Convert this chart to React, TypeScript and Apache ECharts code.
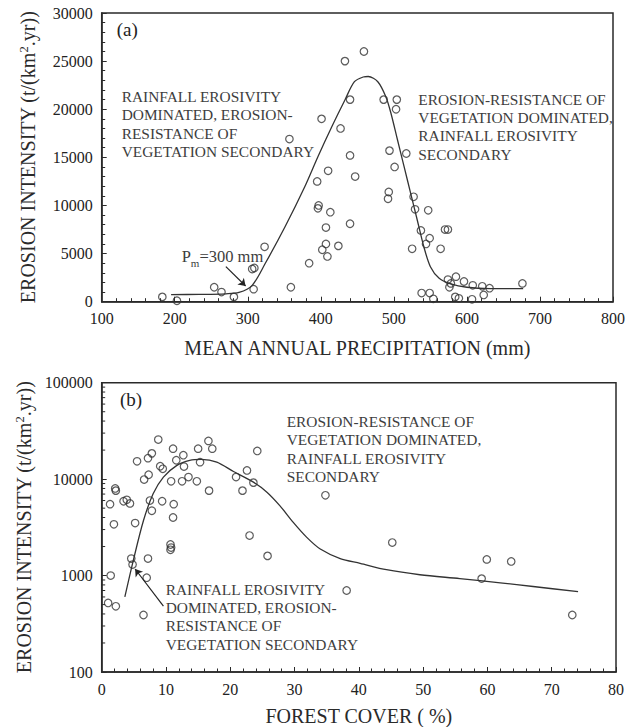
import React, { useEffect, useRef } from "react";
import * as echarts from "echarts";

// ---- Panel (a) data ----
const precipA = [183, 203, 254, 264, 281, 308, 306, 309, 323, 359, 357, 384, 395, 401, 397, 396, 410, 413, 407, 407, 402, 409, 424, 440, 427, 440, 433, 440, 447, 459, 486, 504, 503, 494, 517, 501, 493, 492, 527, 529, 547, 537, 549, 544, 525, 564, 570, 574, 574, 576, 578, 585, 596, 608, 621, 631, 676, 538, 549, 554, 584, 589, 607, 623];
const erosionA = [500, 100, 1500, 1000, 500, 1300, 3400, 3500, 5700, 1500, 16900, 4000, 12500, 19000, 10000, 9700, 13600, 9300, 7700, 6000, 5400, 4700, 5800, 8100, 18000, 21000, 25000, 15200, 13000, 26000, 21000, 21000, 20000, 15700, 15400, 14000, 11400, 10700, 10900, 9600, 9500, 7400, 6600, 6000, 5500, 5500, 7500, 7500, 2300, 1500, 1900, 2600, 2100, 1700, 1600, 1400, 1900, 900, 900, 300, 500, 350, 250, 700];
const curveAX = [195, 233, 270, 288, 306, 324, 351, 378, 396, 415, 433, 446, 458, 465, 478, 489, 496, 505, 514, 523, 532, 541, 550, 562, 578, 600, 632, 677];
const curveAY = [740, 760, 820, 960, 1700, 3990, 7790, 11950, 15070, 18180, 20960, 22860, 23350, 23400, 22860, 21300, 19580, 16800, 14030, 11260, 8490, 5715, 3640, 2430, 1840, 1500, 1360, 1350];
const arrowA = [[270, 3640], [297, 1630]];

// ---- Panel (b) data ----
const coverB = [1.3, 1.9, 1.4, 1.0, 2.2, 2.1, 2.2, 3.4, 3.9, 4.4, 5.2, 5.5, 4.6, 4.8, 7.2, 7.0, 6.5, 6.6, 7.2, 7.8, 7.3, 7.5, 7.8, 8.8, 9.1, 9.5, 9.4, 10.8, 11.1, 11.2, 11.1, 10.7, 10.8, 10.7, 11.6, 12.7, 12.8, 12.5, 13.5, 14.8, 15.0, 15.3, 16.6, 17.2, 16.7, 20.9, 21.9, 22.6, 23.6, 23.0, 24.2, 25.8, 34.8, 45.2, 38.1, 59.9, 63.7, 59.1, 73.2];
const erosionB = [5500, 3400, 1000, 520, 480, 8000, 7600, 5900, 6100, 5600, 3500, 15300, 1500, 1300, 1500, 950, 390, 9900, 16500, 18500, 11100, 6000, 4700, 25700, 13600, 12800, 5900, 9500, 20700, 5500, 4000, 2100, 1950, 1850, 15700, 17700, 13500, 9500, 10500, 9500, 20700, 15000, 24900, 20700, 7600, 10500, 7600, 12300, 9200, 2600, 19600, 1600, 6800, 2200, 700, 1470, 1400, 930, 390];
const curveBX = [3.6, 4.9, 6.5, 8.0, 9.6, 11.7, 13.7, 15.5, 17.9, 20.5, 23.6, 25.7, 27.7, 29.8, 31.9, 34.0, 37.1, 40.2, 44.3, 49.5, 55.7, 62.0, 67.1, 74.1];
const curveBY = [600, 1420, 3720, 7050, 10500, 13900, 15660, 16000, 15030, 12000, 9300, 7330, 5320, 3560, 2490, 1885, 1500, 1340, 1150, 1020, 930, 840, 770, 680];
const arrowB = [[9.6, 483], [5.2, 1170]];
const minorTicksB = [200, 300, 400, 500, 600, 700, 800, 900, 2000, 3000, 4000, 5000, 6000, 7000, 8000, 9000, 20000, 30000, 40000, 50000, 60000, 70000, 80000, 90000];

const FONT = "Liberation Serif";
const AXIS_COLOR = "#2a2a2a";
const TEXT_GRAY = "#3d3d3d";

const zip = (xs: number[], ys: number[]) => xs.map((x, i) => [x, ys[i]]);

export default function App() {
  const ref = useRef<HTMLDivElement>(null);
  useEffect(() => {
    if (!ref.current) return;
    const chart = echarts.init(ref.current, null, { renderer: "svg" });

    const yName = "EROSION INTENSITY (t/(km{sup|2}.yr))";
    const nameStyle = {
      fontFamily: FONT,
      fontSize: 20,
      color: "#2a2a2a",
      rich: {
        sup: { fontFamily: FONT, fontSize: 12.5, verticalAlign: "top", color: "#2a2a2a" },
      },
    };
    const labelStyle = { fontFamily: FONT, fontSize: 16, color: "#222", formatter: (v: number) => String(v) };
    const lineStyleAxis = { color: AXIS_COLOR, width: 1.5 };

    const scatterStyle = {
      symbol: "circle",
      symbolSize: 7.5,
      itemStyle: { color: "rgba(0,0,0,0)", borderColor: "#333", borderWidth: 1.2 },
    };

    const annot = (x: number, y: number, lines: string[]) => ({
      type: "text",
      x,
      y,
      silent: true,
      style: {
        text: lines.join("\n"),
        fontFamily: FONT,
        fontSize: 15.4,
        lineHeight: 18.3,
        fill: TEXT_GRAY,
        verticalAlign: "top",
      },
    });

    const option: any = {
      animation: false,
      grid: [
        { left: 101.7, top: 13, width: 515.3, height: 288.7, show: true, borderColor: AXIS_COLOR, borderWidth: 1.5 },
        { left: 101.7, top: 382.7, width: 514.3, height: 289.3, show: true, borderColor: AXIS_COLOR, borderWidth: 1.5 },
      ],
      xAxis: [
        {
          gridIndex: 0,
          type: "value",
          min: 100,
          max: 800,
          interval: 100,
          name: "MEAN ANNUAL PRECIPITATION (mm)",
          nameLocation: "middle",
          nameGap: 36,
          nameTextStyle: nameStyle,
          axisLine: { show: true, lineStyle: lineStyleAxis },
          axisTick: { show: true, inside: true, length: 5, lineStyle: { color: AXIS_COLOR } },
          minorTick: { show: true, splitNumber: 5, length: 3.5, lineStyle: { color: AXIS_COLOR } },
          axisLabel: { ...labelStyle, margin: 9 },
          splitLine: { show: false },
        },
        {
          gridIndex: 1,
          type: "value",
          min: 0,
          max: 80,
          interval: 10,
          name: "FOREST COVER ( %)",
          nameLocation: "middle",
          nameGap: 34,
          nameTextStyle: nameStyle,
          axisLine: { show: true, lineStyle: lineStyleAxis },
          axisTick: { show: true, inside: true, length: 5, lineStyle: { color: AXIS_COLOR } },
          minorTick: { show: true, splitNumber: 5, length: 3.5, lineStyle: { color: AXIS_COLOR } },
          axisLabel: { ...labelStyle, margin: 9 },
          splitLine: { show: false },
        },
      ],
      yAxis: [
        {
          gridIndex: 0,
          type: "value",
          min: 0,
          max: 30000,
          interval: 5000,
          name: yName,
          nameLocation: "middle",
          nameRotate: 90,
          nameGap: 64,
          nameTextStyle: nameStyle,
          axisLine: { show: true, lineStyle: lineStyleAxis },
          axisTick: { show: true, inside: true, length: 5, lineStyle: { color: AXIS_COLOR } },
          minorTick: { show: true, splitNumber: 5, length: 3.5, lineStyle: { color: AXIS_COLOR } },
          axisLabel: { ...labelStyle, margin: 9 },
          splitLine: { show: false },
        },
        {
          gridIndex: 1,
          type: "log",
          logBase: 10,
          min: 100,
          max: 100000,
          name: yName,
          nameLocation: "middle",
          nameRotate: 90,
          nameGap: 64,
          nameTextStyle: nameStyle,
          axisLine: { show: true, lineStyle: lineStyleAxis },
          axisTick: { show: true, inside: true, length: 5, lineStyle: { color: AXIS_COLOR } },
          axisLabel: { ...labelStyle, margin: 9 },
          splitLine: { show: false },
        },
      ],
      series: [
        {
          type: "scatter",
          xAxisIndex: 0,
          yAxisIndex: 0,
          data: zip(precipA, erosionA),
          ...scatterStyle,
        },
        {
          type: "line",
          xAxisIndex: 0,
          yAxisIndex: 0,
          data: zip(curveAX, curveAY),
          smooth: 0.3,
          showSymbol: false,
          lineStyle: { color: "#333", width: 1.3 },
          markLine: {
            silent: true,
            symbol: ["none", "arrow"],
            symbolSize: 7,
            label: { show: false },
            lineStyle: { color: "#222", type: "solid", width: 1.2 },
            data: [[{ coord: arrowA[0] }, { coord: arrowA[1] }]],
          },
        },
        {
          type: "scatter",
          xAxisIndex: 1,
          yAxisIndex: 1,
          data: zip(coverB, erosionB),
          ...scatterStyle,
        },
        {
          type: "line",
          xAxisIndex: 1,
          yAxisIndex: 1,
          data: zip(curveBX, curveBY),
          smooth: 0.3,
          showSymbol: false,
          lineStyle: { color: "#333", width: 1.3 },
          markLine: {
            silent: true,
            symbol: ["none", "arrow"],
            symbolSize: 7,
            label: { show: false },
            lineStyle: { color: "#222", type: "solid", width: 1.2 },
            data: [[{ coord: arrowB[0] }, { coord: arrowB[1] }]],
          },
        },
        {
          type: "custom",
          xAxisIndex: 1,
          yAxisIndex: 1,
          silent: true,
          clip: false,
          z: 10,
          data: minorTicksB.map((v) => [0, v]),
          encode: { x: 0, y: 1 },
          renderItem: (params: any, api: any) => {
            const p = api.coord([api.value(0), api.value(1)]);
            return {
              type: "line",
              shape: { x1: p[0], y1: p[1], x2: p[0] + 3.5, y2: p[1] },
              style: { stroke: AXIS_COLOR, lineWidth: 1 },
            };
          },
        },
      ],
      graphic: [
        {
          type: "text",
          x: 116.7,
          y: 29,
          silent: true,
          style: { text: "(a)", fontFamily: FONT, fontSize: 19, fill: "#222", verticalAlign: "middle" },
        },
        {
          type: "text",
          x: 120,
          y: 399,
          silent: true,
          style: { text: "(b)", fontFamily: FONT, fontSize: 19, fill: "#222", verticalAlign: "middle" },
        },
        annot(121.7, 87.5, ["RAINFALL EROSIVITY", "DOMINATED, EROSION-", "RESISTANCE OF", "VEGETATION SECONDARY"]),
        annot(418.3, 90, ["EROSION-RESISTANCE OF", "VEGETATION DOMINATED,", "RAINFALL EROSIVITY", "SECONDARY"]),
        annot(165.7, 580, ["RAINFALL EROSIVITY", "DOMINATED, EROSION-", "RESISTANCE OF", "VEGETATION SECONDARY"]),
        annot(286.7, 412.5, ["EROSION-RESISTANCE OF", "VEGETATION DOMINATED,", "RAINFALL EROSIVITY", "SECONDARY"]),
        {
          type: "text",
          x: 181.7,
          y: 256,
          silent: true,
          style: {
            text: "P{sub|m}=300 mm",
            fontFamily: FONT,
            fontSize: 16.5,
            fill: TEXT_GRAY,
            verticalAlign: "middle",
            rich: {
              sub: { fontFamily: FONT, fontSize: 11, verticalAlign: "bottom", lineHeight: 24, fill: TEXT_GRAY },
            },
          },
        },
      ],
    };

    chart.setOption(option);
    return () => chart.dispose();
  }, []);

  return <div ref={ref} style={{ position: "absolute", left: 0, top: 0, width: 628, height: 727 }} />;
}
